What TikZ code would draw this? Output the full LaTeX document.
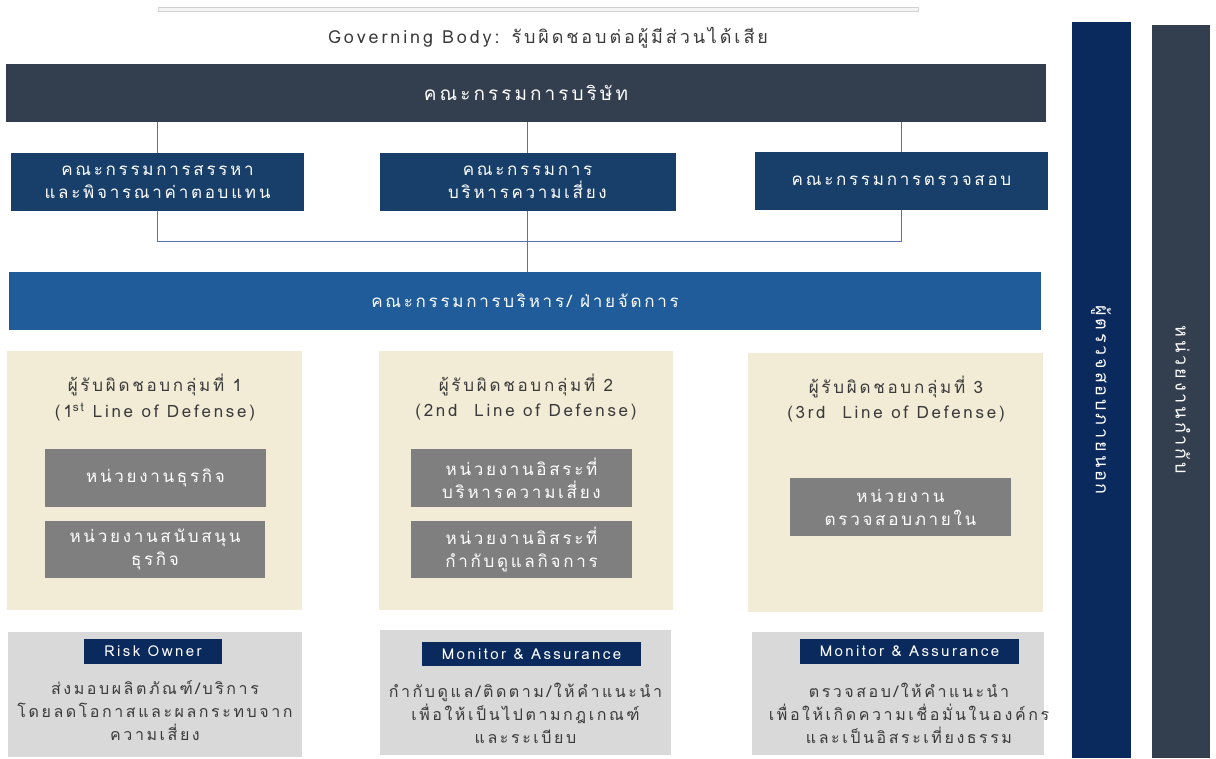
\documentclass[tikz,border=0pt]{standalone}
\usepackage{fontspec}
\setmainfont[Script=Thai,LetterSpace=16]{Loma}
\definecolor{board}{HTML}{333F4F}
\definecolor{comm}{HTML}{173F6A}
\definecolor{mgmt}{HTML}{1F5C99}
\definecolor{cream}{HTML}{F2ECD7}
\definecolor{unitgray}{HTML}{7F7F7F}
\definecolor{lightbox}{HTML}{D9D9D9}
\definecolor{navy}{HTML}{0A2A5E}
\definecolor{conn}{HTML}{5A6FB0}
\definecolor{txt}{HTML}{3A3A3A}
\newcommand\myfs[2]{\fontsize{#1}{#2}\selectfont}
\tikzset{
  box/.style={rectangle, inner sep=0pt, outer sep=0pt, align=center, draw=none},
  connline/.style={draw=conn, line width=1pt},
  darktext/.style={text=txt, inner sep=0pt, align=center},
}
\begin{document}
\begin{tikzpicture}[x=1pt,y=-1pt]
\useasboundingbox (0,0) rectangle (1216,758);
% top rule and title
\node[box, fill=gray!8, draw=gray!35, line width=0.8pt, minimum width=760pt, minimum height=4pt] (topline) at (538,9) {};
\node[darktext, font=\myfs{18}{20}] (gov) at (548,38) {Governing Body: รับผิดชอบต่อผู้มีส่วนได้เสีย};
% board
\node[box, fill=board, text=white, minimum width=1040pt, minimum height=58pt, font=\myfs{19}{23}] (board) at (526,93) {คณะกรรมการบริษัท};
% committees
\node[box, fill=comm, text=white, minimum width=293pt, minimum height=58pt, font=\myfs{17}{23}] (c1) at (157.5,182) {คณะกรรมการสรรหา\\และพิจารณาค่าตอบแทน};
\node[box, fill=comm, text=white, minimum width=296pt, minimum height=58pt, font=\myfs{17}{23}] (c2) at (527.5,182) {คณะกรรมการ\\บริหารความเสี่ยง};
\node[box, fill=comm, text=white, minimum width=293pt, minimum height=58pt, font=\myfs{17}{23}] (c3) at (901.5,181) {คณะกรรมการตรวจสอบ};
% management
\node[box, fill=mgmt, text=white, minimum width=1032pt, minimum height=58pt, font=\myfs{17}{23}] (mg) at (525,301) {คณะกรรมการบริหาร/ ฝ่ายจัดการ};
% connectors
\draw[connline] (board.south -| c1) -- (c1.north);
\draw[connline] (board.south -| c2) -- (c2.north);
\draw[connline] (board.south -| c3) -- (c3.north);
\coordinate (junc) at (527.5,241.5);
\draw[connline] (c1.south) |- (junc) -| (c3.south);
\draw[connline] (c2.south) -- (c2.south |- mg.north);
% cream boxes
\node[box, fill=cream, minimum width=295pt, minimum height=259pt] (l1) at (154.5,480.5) {};
\node[box, fill=cream, minimum width=294pt, minimum height=259pt] (l2) at (526,480.5) {};
\node[box, fill=cream, minimum width=295pt, minimum height=259pt] (l3) at (895.5,482.5) {};
\node[darktext, font=\myfs{17}{20}] (l1a) at (155,385) {ผู้รับผิดชอบกลุ่มที่ 1};
\node[darktext, font=\myfs{17}{20}] (l1b) at (155,412) {(1\textsuperscript{st} Line of Defense)};
\node[darktext, font=\myfs{17}{20}] (l2a) at (526,385) {ผู้รับผิดชอบกลุ่มที่ 2};
\node[darktext, font=\myfs{17}{20}] (l2b) at (526,412) {(2nd~~Line of Defense)};
\node[darktext, font=\myfs{17}{20}] (l3a) at (896,387) {ผู้รับผิดชอบกลุ่มที่ 3};
\node[darktext, font=\myfs{17}{20}] (l3b) at (896,414) {(3rd~~Line of Defense)};
% units
\node[box, fill=unitgray, text=white, minimum width=221pt, minimum height=58pt, font=\myfs{17}{23}] (u1a) at (155.5,478) {หน่วยงานธุรกิจ};
\node[box, fill=unitgray, text=white, minimum width=220pt, minimum height=57pt, font=\myfs{17}{23}] (u1b) at (155,549.5) {หน่วยงานสนับสนุน\\ธุรกิจ};
\node[box, fill=unitgray, text=white, minimum width=221pt, minimum height=58pt, font=\myfs{17}{23}] (u2a) at (521.5,478) {หน่วยงานอิสระที่\\บริหารความเสี่ยง};
\node[box, fill=unitgray, text=white, minimum width=221pt, minimum height=57pt, font=\myfs{17}{23}] (u2b) at (521.5,549.5) {หน่วยงานอิสระที่\\กำกับดูแลกิจการ};
\node[box, fill=unitgray, text=white, minimum width=221pt, minimum height=58pt, font=\myfs{17}{23}] (u3) at (900.5,507) {หน่วยงาน\\ตรวจสอบภายใน};
% bottom boxes
\node[box, fill=lightbox, minimum width=294pt, minimum height=125pt] (b1) at (155,694.5) {};
\node[box, fill=lightbox, minimum width=291pt, minimum height=125pt] (b2) at (525.5,692.5) {};
\node[box, fill=lightbox, minimum width=292pt, minimum height=123pt] (b3) at (898,693.5) {};
\node[box, fill=navy, text=white, minimum width=138pt, minimum height=25pt, font=\myfs{15}{18}] (t1) at (153,651.5) {Risk Owner};
\node[box, fill=navy, text=white, minimum width=219pt, minimum height=24pt, font=\myfs{15}{18}] (t2) at (531.5,654) {Monitor \& Assurance};
\node[box, fill=navy, text=white, minimum width=219pt, minimum height=25pt, font=\myfs{15}{18}] (t3) at (909.5,651.5) {Monitor \& Assurance};
\node[darktext, font=\myfs{16}{23}] (d1) at (155,711) {ส่งมอบผลิตภัณฑ์/บริการ\\โดยลดโอกาสและผลกระทบจาก\\ความเสี่ยง};
\node[darktext, font=\myfs{16}{23}] (d2) at (525.5,713) {กำกับดูแล/ติดตาม/ให้คำแนะนำ\\เพื่อให้เป็นไปตามกฎเกณฑ์\\และระเบียบ};
\node[darktext, font=\myfs{16}{23}] (d3) at (909,713) {ตรวจสอบ/ให้คำแนะนำ\\เพื่อให้เกิดความเชื่อมั่นในองค์กร\\และเป็นอิสระเที่ยงธรรม};
% right bars
\node[box, fill=navy, minimum width=59pt, minimum height=736pt] (rb1) at (1101.5,390) {};
\node[box, fill=board, minimum width=58pt, minimum height=733pt] (rb2) at (1181,391.5) {};
\node[text=white, inner sep=0pt, rotate=-90, font=\myfs{18}{20}] (rt1) at (1101,400) {ผู้ตรวจสอบภายนอก};
\node[text=white, inner sep=0pt, rotate=-90, font=\myfs{18}{20}] (rt2) at (1183,400) {หน่วยงานกำกับ};
\end{tikzpicture}
\end{document}
